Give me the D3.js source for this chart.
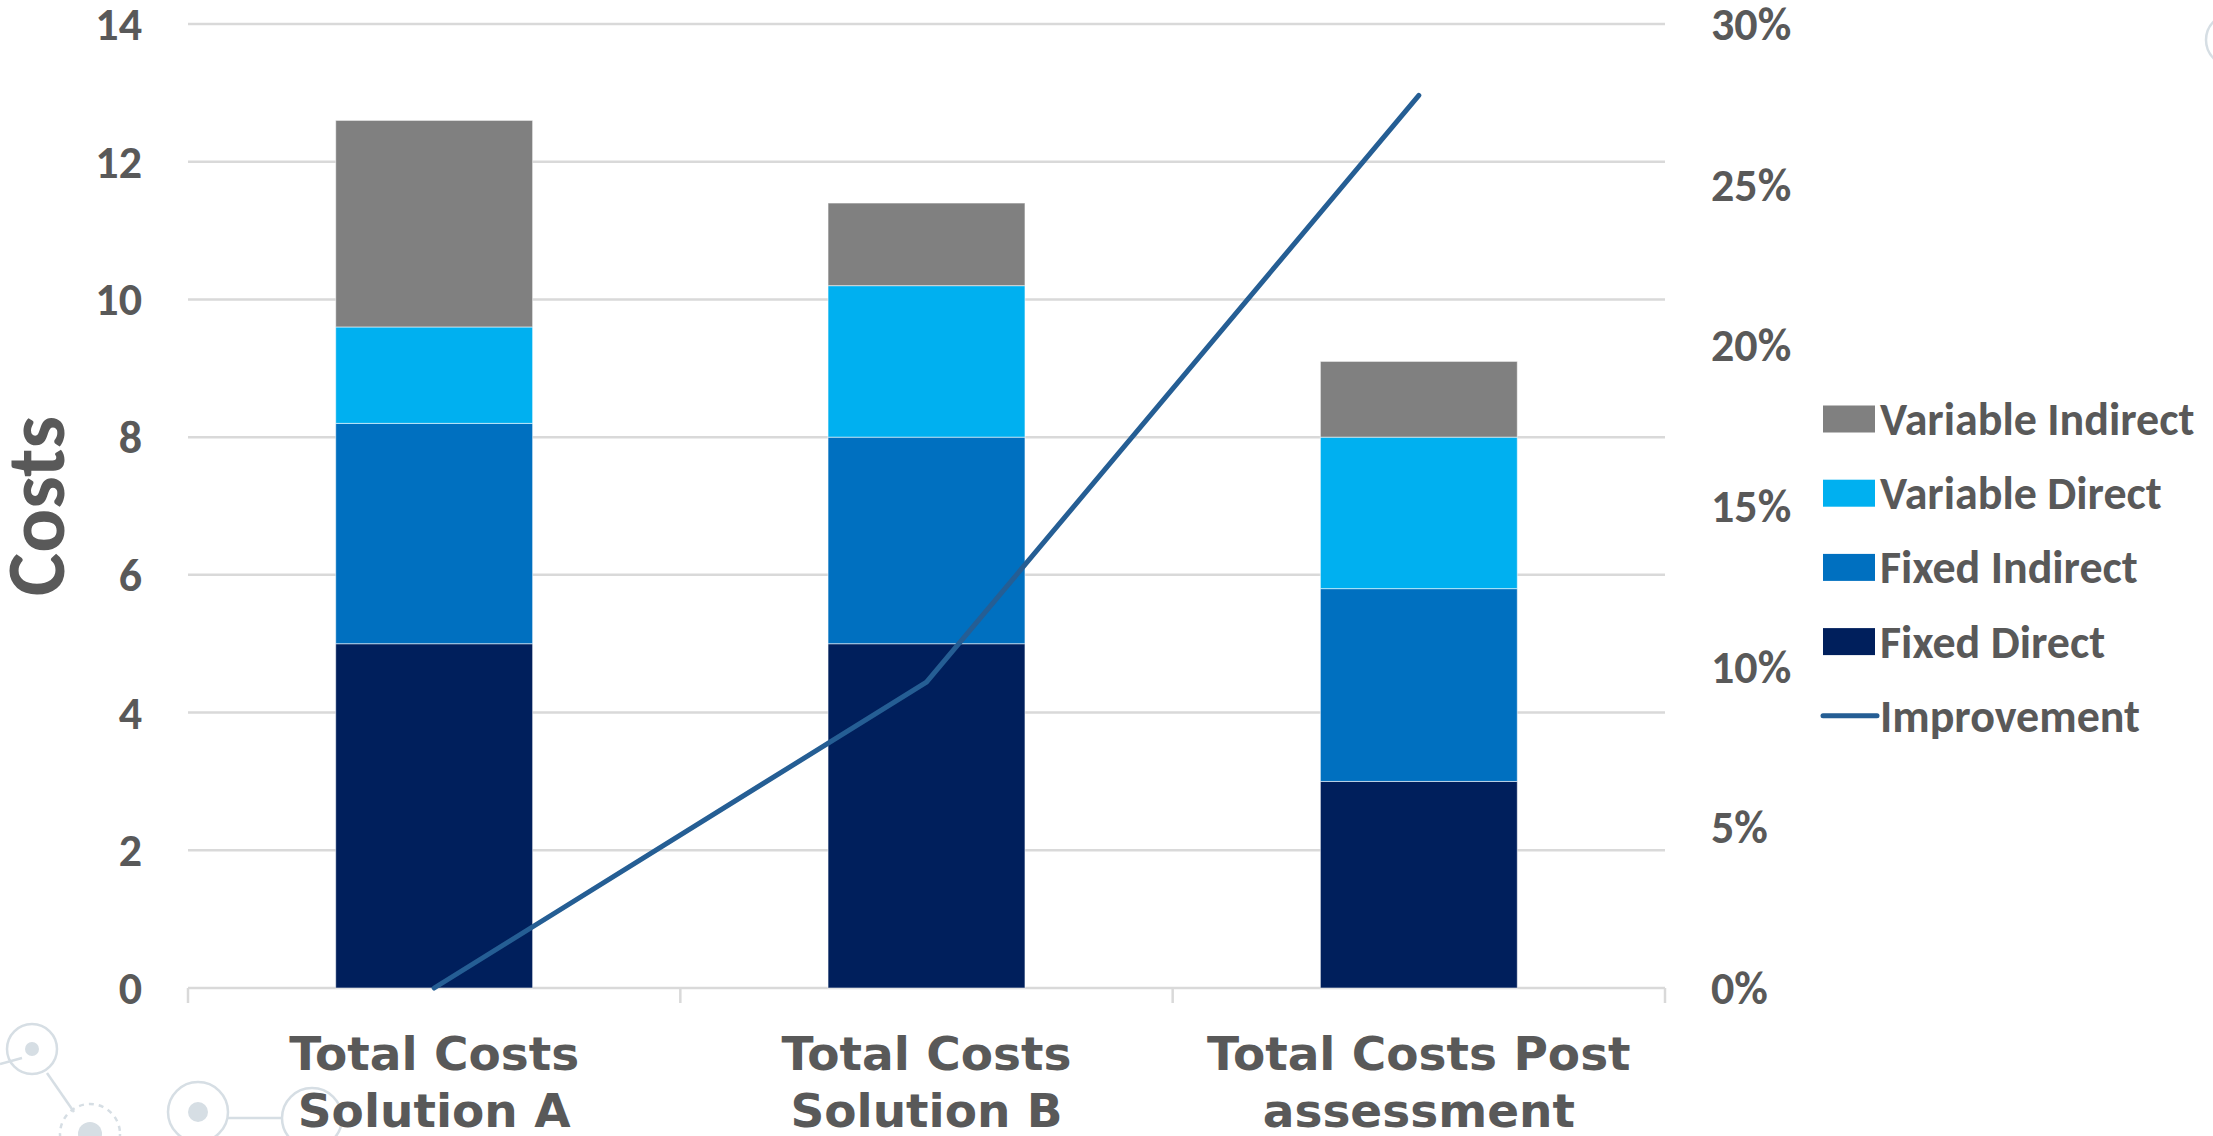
<!DOCTYPE html>
<html>
<head>
<meta charset="utf-8">
<script src="https://cdn.jsdelivr.net/npm/d3@7"></script>
<style>
  html, body { margin: 0; padding: 0; background: #ffffff; }
  svg { display: block; }
</style>
</head>
<body>
<svg id="chart" width="2213" height="1136"></svg>
<script>
// ---------- data ----------
const categories = [["Total Costs", "Solution A"], ["Total Costs", "Solution B"], ["Total Costs Post", "assessment"]];
const categoryKeys = ["A", "B", "C"];
const seriesNames = ["Fixed Direct", "Fixed Indirect", "Variable Direct", "Variable Indirect"];
const fixedDirect = [5.0, 5.0, 3.0];
const fixedIndirect = [3.2, 3.0, 2.8];
const variableDirect = [1.4, 2.2, 2.2];
const variableIndirect = [3.0, 1.2, 1.1];
const improvement = [0.0, 0.0952, 0.2778];
const leftTicks = [0, 2, 4, 6, 8, 10, 12, 14];
const rightTicks = [0, 0.05, 0.10, 0.15, 0.20, 0.25, 0.30];
const legendOrder = ["Variable Indirect", "Variable Direct", "Fixed Indirect", "Fixed Direct", "Improvement"];

// ---------- styles ----------
const colors = {
  "Fixed Direct": "#001f5c",
  "Fixed Indirect": "#0070c0",
  "Variable Direct": "#00b0f0",
  "Variable Indirect": "#808080",
  "Improvement": "#255e94"
};
const textColor = "#595959";
const gridColor = "#d9d9d9";
const labelFont = "Carlito, Lato, 'Open Sans', sans-serif";
const catFont = "'DejaVu Sans', Verdana, sans-serif";

const svg = d3.select("#chart");
const plot = { left: 188, right: 1665, top: 24, bottom: 988 };

const x = d3.scaleBand().domain(categoryKeys).range([plot.left, plot.right]).padding(0);
const yL = d3.scaleLinear().domain([0, 14]).range([plot.bottom, plot.top]);
const yR = d3.scaleLinear().domain([0, 0.30]).range([plot.bottom, plot.top]);
const barW = x.bandwidth() * 0.4;

// ---------- decorations (faint molecule motif) ----------
const deco = svg.append("g").attr("class", "deco");
const decoColor = "#d6dee4";
const decoLines = [[0, 1064, 22, 1058], [47, 1073, 74, 1112], [228, 1118, 282, 1118]];
decoLines.forEach(l => deco.append("line")
  .attr("x1", l[0]).attr("y1", l[1]).attr("x2", l[2]).attr("y2", l[3])
  .attr("stroke", decoColor).attr("stroke-width", 2.5));
const decoRings = [
  { cx: 32, cy: 1049, r: 25, dot: 7, dash: null },
  { cx: 90, cy: 1134, r: 30, dot: 12, dash: "5,5" },
  { cx: 198, cy: 1112, r: 30, dot: 10, dash: null },
  { cx: 312, cy: 1118, r: 30, dot: 0, dash: null },
  { cx: 2232, cy: 40, r: 26, dot: 0, dash: null }
];
decoRings.forEach(c => {
  deco.append("circle").attr("cx", c.cx).attr("cy", c.cy).attr("r", c.r)
    .attr("fill", "none").attr("stroke", decoColor).attr("stroke-width", 2.5)
    .attr("stroke-dasharray", c.dash);
  if (c.dot) deco.append("circle").attr("cx", c.cx).attr("cy", c.cy).attr("r", c.dot).attr("fill", decoColor);
});

// ---------- gridlines ----------
svg.append("g").selectAll("line").data(leftTicks).join("line")
  .attr("x1", plot.left).attr("x2", plot.right)
  .attr("y1", d => yL(d)).attr("y2", d => yL(d))
  .attr("stroke", gridColor).attr("stroke-width", 2.5);

// category axis tick marks at band boundaries
const bounds = categoryKeys.map(k => x(k)).concat([x(categoryKeys[categoryKeys.length - 1]) + x.bandwidth()]);
svg.append("g").selectAll("line").data(bounds).join("line")
  .attr("x1", d => d).attr("x2", d => d)
  .attr("y1", plot.bottom).attr("y2", plot.bottom + 15)
  .attr("stroke", gridColor).attr("stroke-width", 2.5);

// ---------- stacked bars ----------
const rows = categoryKeys.map((k, i) => ({
  key: k,
  "Fixed Direct": fixedDirect[i],
  "Fixed Indirect": fixedIndirect[i],
  "Variable Direct": variableDirect[i],
  "Variable Indirect": variableIndirect[i]
}));
const stack = d3.stack().keys(seriesNames)(rows);
svg.append("g").selectAll("g").data(stack).join("g")
  .attr("fill", d => colors[d.key])
  .selectAll("rect").data(d => d).join("rect")
  .attr("x", d => x(d.data.key) + (x.bandwidth() - barW) / 2)
  .attr("width", barW)
  .attr("y", d => yL(d[1]))
  .attr("height", d => yL(d[0]) - yL(d[1]))
  .attr("stroke", "rgba(255,255,255,0.55)").attr("stroke-width", 1);

// ---------- improvement line ----------
const line = d3.line()
  .x((d, i) => x(categoryKeys[i]) + x.bandwidth() / 2)
  .y(d => yR(d));
svg.append("path").datum(improvement)
  .attr("d", line)
  .attr("fill", "none").attr("stroke", colors["Improvement"])
  .attr("stroke-width", 5).attr("stroke-linejoin", "round").attr("stroke-linecap", "round");

// ---------- left axis labels ----------
svg.append("g").selectAll("text").data(leftTicks).join("text")
  .attr("x", 142).attr("y", d => yL(d) + 16)
  .attr("text-anchor", "end")
  .attr("font-family", labelFont).attr("font-weight", "bold").attr("font-size", 46)
  .attr("fill", textColor)
  .text(d => d3.format("d")(d));

// ---------- right axis labels ----------
svg.append("g").selectAll("text").data(rightTicks).join("text")
  .attr("x", 1711).attr("y", d => yR(d) + 16)
  .attr("text-anchor", "start")
  .attr("font-family", labelFont).attr("font-weight", "bold").attr("font-size", 46)
  .attr("fill", textColor)
  .text(d => d3.format(".0%")(d));

// ---------- y axis title ----------
svg.append("text")
  .attr("transform", "translate(64,506) rotate(-90)")
  .attr("text-anchor", "middle")
  .attr("font-family", labelFont).attr("font-weight", "bold").attr("font-size", 82)
  .attr("fill", textColor)
  .text("Costs");

// ---------- category labels ----------
const catG = svg.append("g").selectAll("text").data(categories).join("text")
  .attr("text-anchor", "middle")
  .attr("font-family", catFont).attr("font-weight", "bold").attr("font-size", 47)
  .attr("fill", textColor);
catG.each(function (d, i) {
  const cx = x(categoryKeys[i]) + x.bandwidth() / 2;
  d3.select(this).selectAll("tspan").data(d).join("tspan")
    .attr("x", cx).attr("y", (t, j) => 1070 + j * 57)
    .text(t => t);
});

// ---------- legend ----------
const legend = svg.append("g").selectAll("g").data(legendOrder).join("g")
  .attr("transform", (d, i) => `translate(1823, ${419 + i * 74.2})`);
legend.each(function (d) {
  const g = d3.select(this);
  if (d === "Improvement") {
    g.append("line").attr("x1", 0).attr("x2", 54).attr("y1", 0).attr("y2", 0)
      .attr("stroke", colors[d]).attr("stroke-width", 5).attr("stroke-linecap", "round");
  } else {
    g.append("rect").attr("x", 0).attr("y", -13.5).attr("width", 52).attr("height", 27)
      .attr("fill", colors[d]);
  }
  g.append("text").attr("x", 57).attr("y", 16)
    .attr("font-family", labelFont).attr("font-weight", "bold").attr("font-size", 46)
    .attr("fill", textColor).text(d);
});
</script>
</body>
</html>
